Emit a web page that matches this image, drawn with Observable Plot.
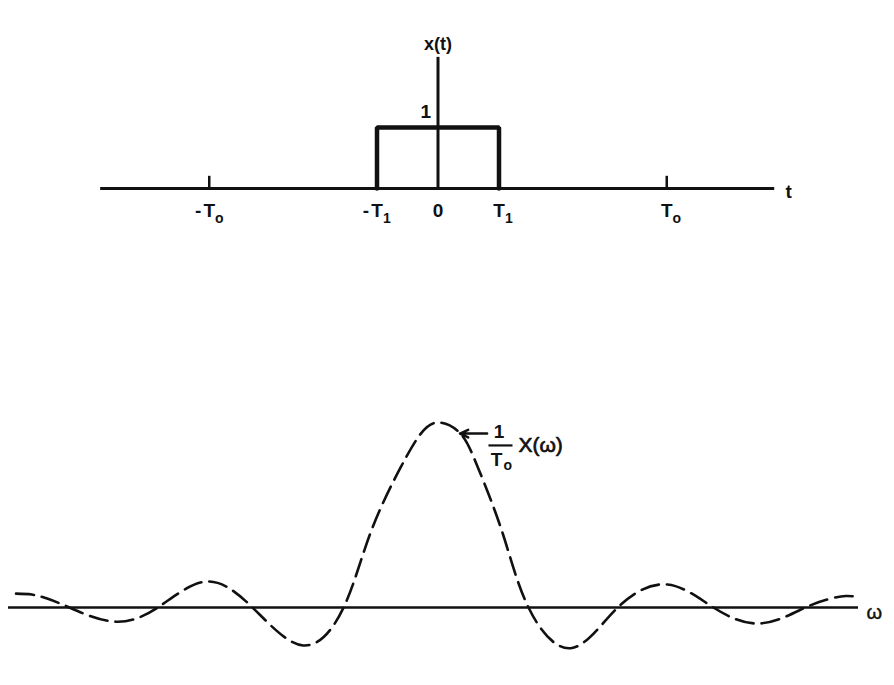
<!DOCTYPE html>
<html><head><meta charset="utf-8">
<script src="https://cdn.jsdelivr.net/npm/d3@7"></script>
<script src="https://cdn.jsdelivr.net/npm/@observablehq/plot@0.6"></script>
<style>body{margin:0;background:#fff;} svg{display:block;}</style>
</head><body><div id="chart"></div>
<script>
// ---- data: top panel (time domain) ----
const T1 = 1;
const T0 = 3.75;
const tAxisExtent = [-5.53, 5.52];
const yAxisTop = 2.15;
const pulseT = [-T1, -T1, T1, T1];
const pulseV = [0, 1, 1, 0];
const tickT = [-T0, -T1, 0, T1, T0];
const tickMain = ["T", "T", "0", "T", "T"];
const tickSign = ["-", "-", "", "", ""];
const tickSub = ["o", "1", "", "1", "o"];
const periodTicks = [-T0, T0];

// ---- data: bottom panel (spectrum envelope) ----
const omegaU = [-4.57, -4.4, -4.24, -3.99, -3.51, -3.03, -2.51, -2.0, -1.45, -1.01, -0.72, -0.39, -0.17, 0.02, 0.26, 0.45, 0.72, 1.0, 1.46, 1.97, 2.51, 3.01, 3.52, 4.01, 4.3, 4.45, 4.59];
const envV   = [0.075, 0.07, 0.05, 0, -0.076, 0, 0.14, 0, -0.205, 0, 0.40, 0.757, 0.94, 1.0, 0.94, 0.757, 0.40, 0, -0.22, 0, 0.124, 0, -0.086, 0, 0.05, 0.062, 0.058];
const omegaAxisExtent = [-4.652, 4.587];

const FONT = "'Liberation Sans', Arial, Helvetica, sans-serif";
const INK = "#111";

const pulse = pulseT.map((t, i) => ({t, v: pulseV[i]}));
const ticks = tickT.map((t, i) => ({t, main: tickMain[i], sign: tickSign[i], sub: tickSub[i]}));
const env = omegaU.map((u, i) => ({u, v: envV[i]}));

const topPlot = Plot.plot({
  width: 894, height: 250, margin: 0,
  x: {domain: [-437.5 / 61, (894 - 437.5) / 61], axis: null},
  y: {domain: [-(250 - 188) / 61, 188 / 61], axis: null},
  style: {fontFamily: FONT, background: "white", color: INK, overflow: "visible"},
  marks: [
    Plot.ruleY([0], {x1: tAxisExtent[0], x2: tAxisExtent[1], stroke: INK, strokeWidth: 3}),
    Plot.ruleX([0], {y1: 0, y2: yAxisTop, stroke: INK, strokeWidth: 3}),
    Plot.ruleX(periodTicks, {y1: 0, y2: 0.2, stroke: INK, strokeWidth: 2.5}),
    Plot.line(pulse, {x: "t", y: "v", stroke: INK, strokeWidth: 4.5, strokeLinejoin: "miter"}),
    Plot.text(ticks, {x: "t", y: -0.37, text: "main", fontSize: 19, fontWeight: "bold", fill: INK}),
    Plot.text(ticks, {x: "t", y: -0.37, text: "sign", dx: -11, fontSize: 19, fontWeight: "bold", fill: INK}),
    Plot.text(ticks, {x: "t", y: -0.37, text: "sub", dx: 10, dy: 7, fontSize: 14, fontWeight: "bold", fill: INK}),
    Plot.text(["x(t)"], {x: 0, y: 2.36, text: d => d, fontSize: 18, fontWeight: "bold", fill: INK}),
    Plot.text(["1"], {x: -0.2, y: 1.25, text: d => d, fontSize: 19, fontWeight: "bold", fill: INK}),
    Plot.text(["t"], {x: 5.75, y: -0.06, text: d => d, fontSize: 19, fontWeight: "bold", fill: INK})
  ]
});

const bottomPlot = Plot.plot({
  width: 894, height: 435, margin: 0,
  x: {domain: [-436 / 92, (894 - 436) / 92], axis: null},
  y: {domain: [-(435 - 357) / 185, 357 / 185], axis: null},
  style: {fontFamily: FONT, background: "white", color: INK, overflow: "visible"},
  marks: [
    Plot.ruleY([0], {x1: omegaAxisExtent[0], x2: omegaAxisExtent[1], stroke: INK, strokeWidth: 2.5}),
    Plot.line(env, {x: "u", y: "v", curve: "natural", stroke: INK, strokeWidth: 2.6, strokeDasharray: "18,8"}),
    Plot.arrow([{x1: 0.55, y1: 0.94, x2: 0.255, y2: 0.94}], {x1: "x1", y1: "y1", x2: "x2", y2: "y2", stroke: INK, strokeWidth: 2.5, headLength: 10, headAngle: 50}),
    Plot.text(["1"], {x: 0.68, y: 0.948, text: d => d, fontSize: 19, fontWeight: "bold", fill: INK}),
    Plot.link([{x1: 0.565, x2: 0.826, y: 0.876}], {x1: "x1", x2: "x2", y1: "y", y2: "y", stroke: INK, strokeWidth: 2.2}),
    Plot.text(["T"], {x: 0.652, y: 0.8, text: d => d, fontSize: 19, fontWeight: "bold", fill: INK}),
    Plot.text(["o"], {x: 0.775, y: 0.765, text: d => d, fontSize: 14, fontWeight: "bold", fill: INK}),
    Plot.text(["X(ω)"], {x: 0.891, y: 0.876, text: d => d, textAnchor: "start", fontSize: 21, fill: INK, stroke: INK, strokeWidth: 0.7}),
    Plot.text(["ω"], {x: 4.76, y: -0.025, text: d => d, fontSize: 20, fill: INK, stroke: INK, strokeWidth: 0.4})
  ]
});

const chart = document.getElementById("chart");
chart.appendChild(topPlot);
chart.appendChild(bottomPlot);
</script></body></html>
